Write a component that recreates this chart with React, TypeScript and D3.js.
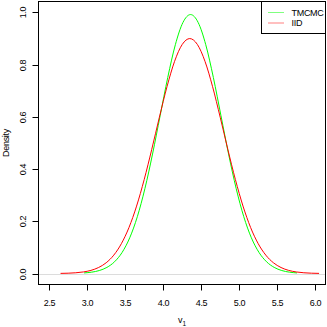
import { useEffect, useRef } from 'react'
import * as d3 from 'd3'

// kernel density estimates (x, density)
const iidX = [2.65, 2.75, 2.85, 2.95, 3.05, 3.15, 3.25, 3.35, 3.45, 3.55, 3.65, 3.75, 3.85, 3.95, 4.05, 4.15, 4.25, 4.35,
  4.45, 4.55, 4.65, 4.75, 4.85, 4.95, 5.05, 5.15, 5.25, 5.35, 5.45, 5.55, 5.65, 5.75, 5.85, 5.95, 6.05]
const iidY = [0.0006, 0.0013, 0.0029, 0.0061, 0.0121, 0.023, 0.0412, 0.0704, 0.1143, 0.1762, 0.2583, 0.3597, 0.476, 0.5987,
  0.7156, 0.8128, 0.8773, 0.9, 0.8773, 0.8128, 0.7156, 0.5987, 0.476, 0.3597, 0.2583, 0.1762, 0.1143, 0.0704, 0.0412,
  0.023, 0.0121, 0.0061, 0.0029, 0.0013, 0.0006]

const tmcmcX = [2.96, 3.06, 3.16, 3.26, 3.36, 3.46, 3.56, 3.66, 3.76, 3.86, 3.96, 4.06, 4.16, 4.26, 4.36,
  4.46, 4.56, 4.66, 4.76, 4.86, 4.96, 5.06, 5.16, 5.26, 5.36, 5.46, 5.56, 5.66, 5.76]
const tmcmcY = [0.0023, 0.0053, 0.0115, 0.0235, 0.045, 0.0809, 0.1369, 0.2178, 0.3257, 0.4577, 0.6046, 0.7508, 0.8765,
  0.9617, 0.992, 0.9617, 0.8765, 0.7508, 0.6046, 0.4577, 0.3257, 0.2178, 0.1369, 0.0809, 0.045, 0.0235, 0.0115,
  0.0053, 0.0023]

const xTicks = [2.5, 3.0, 3.5, 4.0, 4.5, 5.0, 5.5, 6.0]
const yTicks = [0.0, 0.2, 0.4, 0.6, 0.8, 1.0]

const seriesNames = ['TMCMC', 'IID']
const seriesColors = ['#00ff00', '#ff0000']

export default function App() {
  const ref = useRef<SVGSVGElement>(null)

  useEffect(() => {
    const svg = d3.select(ref.current)
    svg.selectAll('*').remove()

    const left = 38.5
    const right = 325.5
    const top = 1.5
    const bottom = 284.5
    const font = 'Liberation Sans, Arial, sans-serif'
    const fs = 9
    const ls = -0.3

    const x = d3.scaleLinear().domain([2.36, 6.135]).range([left, right])
    const y = d3.scaleLinear().domain([-0.042, 1.042]).range([bottom, top])

    // zero line
    svg.append('line')
      .attr('x1', left).attr('x2', right)
      .attr('y1', Math.round(y(0)) + 0.5).attr('y2', Math.round(y(0)) + 0.5)
      .attr('stroke', '#dcdcdc')

    const line = d3.line<[number, number]>()
      .x((d) => x(d[0]))
      .y((d) => y(d[1]))
      .curve(d3.curveMonotoneX)

    const series = [
      d3.zip(tmcmcX, tmcmcY) as [number, number][],
      d3.zip(iidX, iidY) as [number, number][],
    ]
    series.forEach((pts, i) => {
      svg.append('path')
        .attr('d', line(pts))
        .attr('fill', 'none')
        .attr('stroke', seriesColors[i])
        .attr('stroke-width', 1)
    })

    // box
    svg.append('rect')
      .attr('x', left).attr('y', top)
      .attr('width', right - left).attr('height', bottom - top)
      .attr('fill', 'none').attr('stroke', '#000')

    // x axis
    const gx = svg.append('g')
    xTicks.forEach((t) => {
      const px = Math.round(x(t)) + 0.5
      gx.append('line').attr('x1', px).attr('x2', px).attr('y1', bottom).attr('y2', bottom + 6).attr('stroke', '#000')
      gx.append('text').attr('x', px).attr('y', 305.5).attr('text-anchor', 'middle')
        .attr('font-family', font).attr('font-size', fs).attr('letter-spacing', ls).text(t.toFixed(1))
    })

    // y axis
    const gy = svg.append('g')
    yTicks.forEach((t) => {
      const py = Math.round(y(t)) + 0.5
      gy.append('line').attr('x1', left - 6).attr('x2', left).attr('y1', py).attr('y2', py).attr('stroke', '#000')
      gy.append('text').attr('transform', `translate(25.5,${py}) rotate(-90)`).attr('text-anchor', 'middle')
        .attr('font-family', font).attr('font-size', fs).attr('letter-spacing', ls).text(t.toFixed(1))
    })

    svg.append('text')
      .attr('transform', `translate(8.5,${(top + bottom) / 2}) rotate(-90)`)
      .attr('text-anchor', 'middle')
      .attr('font-family', font).attr('font-size', fs).attr('letter-spacing', ls)
      .text('Density')

    const xl = svg.append('text')
      .attr('x', (left + right) / 2).attr('y', 323)
      .attr('text-anchor', 'middle')
      .attr('font-family', font).attr('font-size', fs)
    xl.append('tspan').text('v')
    xl.append('tspan').attr('font-size', 6.5).attr('dy', 2.5).text('1')

    // legend
    const lg = svg.append('g')
    lg.append('rect').attr('x', 261.5).attr('y', top).attr('width', right - 261.5).attr('height', 32)
      .attr('fill', '#fff').attr('stroke', '#000')
    seriesNames.forEach((name, i) => {
      const ly = 12.5 + i * 10.5
      lg.append('line').attr('x1', 268).attr('x2', 284).attr('y1', ly).attr('y2', ly)
        .attr('stroke', seriesColors[i]).attr('stroke-opacity', 0.5)
      lg.append('text').attr('x', 291.5).attr('y', ly + 3.3)
        .attr('font-family', font).attr('font-size', fs).attr('letter-spacing', ls).text(name)
    })
  }, [])

  return (
    <svg ref={ref} width={327} height={327}
      style={{ position: 'absolute', left: 0, top: 0, background: '#fff' }} />
  )
}
